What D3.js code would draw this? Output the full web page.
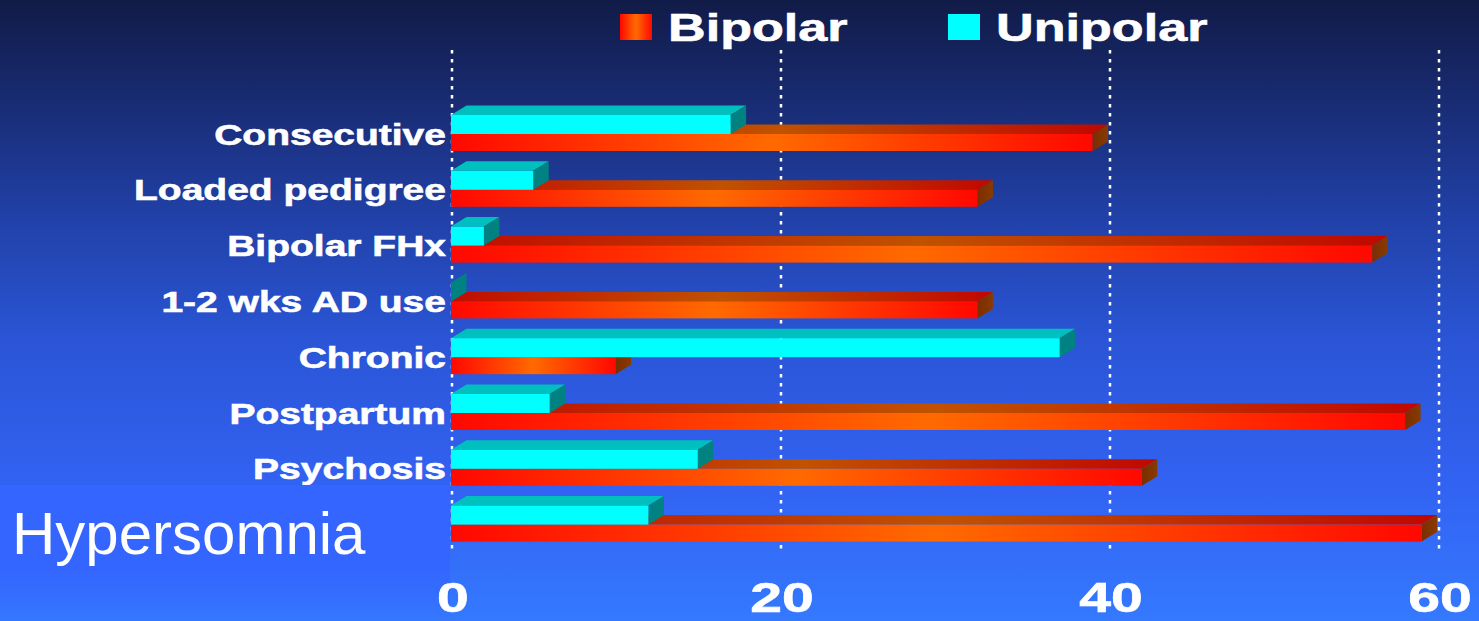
<!DOCTYPE html>
<html>
<head>
<meta charset="utf-8">
<script src="https://cdn.jsdelivr.net/npm/d3@7"></script>
<style>
  html, body { margin: 0; padding: 0; background: #1b2f80; }
  svg { display: block; }
</style>
</head>
<body>
<svg id="chart" width="1479" height="621"></svg>
<script>
// Chart data
const categories = ["Consecutive", "Loaded pedigree", "Bipolar FHx", "1-2 wks AD use",
                    "Chronic", "Postpartum", "Psychosis", "Hypersomnia"];
const unipolar = [17, 5, 2, 0, 37, 6, 15, 12];
const bipolar  = [39, 32, 56, 32, 10, 58, 42, 59];
const tickValues = [0, 20, 40, 60];
const seriesNames = ["Bipolar", "Unipolar"];

const W = 1479, H = 621;
const svg = d3.select("#chart");
const defs = svg.append("defs");
const FONT = "'Liberation Sans', Arial, sans-serif";

// Background: deep navy at the top fading to bright blue
const bg = defs.append("linearGradient").attr("id", "bg").attr("x1", 0).attr("y1", 0).attr("x2", 0).attr("y2", 1);
[[0, "#111b47"], [0.15, "#182a6f"], [0.35, "#2141a8"], [0.55, "#2a55d6"], [0.78, "#3262f2"], [1, "#3479ff"]]
  .forEach(([o, c]) => bg.append("stop").attr("offset", o).attr("stop-color", c));
svg.append("rect").attr("width", W).attr("height", H).attr("fill", "url(#bg)");

// Gradients for the 3-D red bars
function hGrad(id, stops) {
  const g = defs.append("linearGradient").attr("id", id).attr("x1", 0).attr("y1", 0).attr("x2", 1).attr("y2", 0);
  stops.forEach(([o, c]) => g.append("stop").attr("offset", o).attr("stop-color", c));
}
hGrad("redFront", [[0, "#ff0800"], [0.5, "#ff6a00"], [1, "#ff0800"]]);
hGrad("redTop",   [[0, "#c00c00"], [0.5, "#c05200"], [1, "#c00800"]]);
hGrad("redSide",  [[0, "#7a2e00"], [1, "#8a3a00"]]);

// Label panel fades out into the background towards the bottom
const pg = defs.append("linearGradient").attr("id", "panel").attr("x1", 0).attr("y1", 0).attr("x2", 0).attr("y2", 1);
pg.append("stop").attr("offset", 0).attr("stop-color", "#3466ff").attr("stop-opacity", 1);
pg.append("stop").attr("offset", 0.6).attr("stop-color", "#3466ff").attr("stop-opacity", 1);
pg.append("stop").attr("offset", 1).attr("stop-color", "#3466ff").attr("stop-opacity", 0);

const faces = {
  Bipolar:  { front: "url(#redFront)", top: "url(#redTop)", side: "url(#redSide)", legend: "url(#redFront)" },
  Unipolar: { front: "#00ffff", top: "#00bfbf", side: "#008282", legend: "#00ffff" }
};

// Scales
const x = d3.scaleLinear().domain([0, 60]).range([451, 1438]);
const y = d3.scaleBand().domain(categories).range([106.1, 552.5]).padding(0);
const mid = c => y(c) + y.bandwidth() / 2;   // boundary between the two series bars

const DX = 15.5, DY = -9.5;                  // 3-D depth offset
const barSpan = { Unipolar: [-19, 0], Bipolar: [0, 17] };

// Dotted vertical gridlines
svg.append("g").selectAll("line").data(tickValues).join("line")
  .attr("x1", d => x(d) + 1).attr("x2", d => x(d) + 1)
  .attr("y1", 50).attr("y2", 550)
  .attr("stroke", "#ffffff").attr("stroke-width", 2.5)
  .attr("stroke-dasharray", "3.5,5.5");

// Bars: red series drawn first, cyan in front of it
const rows = categories.map((c, i) => ({ c, Unipolar: unipolar[i], Bipolar: bipolar[i] }));
const barsG = svg.append("g");
rows.forEach(r => {
  seriesNames.forEach(s => {
    const v = r[s];
    const x0 = x(0), x1 = x(v);
    const yt = mid(r.c) + barSpan[s][0], yb = mid(r.c) + barSpan[s][1];
    const f = faces[s];
    const g = barsG.append("g");
    if (v > 0) {
      g.append("path")
        .attr("d", `M${x0},${yt}L${x0 + DX},${yt + DY}L${x1 + DX},${yt + DY}L${x1},${yt}Z`)
        .attr("fill", f.top);
    }
    g.append("path")
      .attr("d", `M${x1},${yt}L${x1 + DX},${yt + DY}L${x1 + DX},${yb + DY}L${x1},${yb}Z`)
      .attr("fill", f.side);
    if (v > 0) {
      g.append("rect").attr("x", x0).attr("y", yt).attr("width", x1 - x0).attr("height", yb - yt)
        .attr("fill", f.front);
    }
  });
});

// Category labels (stretched heavy type)
svg.append("g").selectAll("text").data(categories.slice(0, -1)).join("text")
  .attr("transform", d => `translate(446,${mid(d) + 10.5}) scale(1.3,1)`)
  .attr("text-anchor", "end")
  .attr("font-family", FONT).attr("font-weight", "bold").attr("font-size", 30)
  .attr("fill", "#ffffff").attr("stroke", "#ffffff").attr("stroke-width", 0.6)
  .text(d => d);

// The last category is named in its own panel at the lower left
const lastCat = categories[categories.length - 1];
svg.append("rect").attr("x", 0).attr("y", 485).attr("width", 450).attr("height", 136).attr("fill", "url(#panel)");
svg.append("text")
  .attr("x", 12).attr("y", mid(lastCat) + 29)
  .attr("font-family", FONT).attr("font-size", 60).attr("fill", "#ffffff")
  .text(lastCat);

// X axis tick labels
svg.append("g").selectAll("text").data(tickValues).join("text")
  .attr("transform", d => `translate(${x(d) + 2},612) scale(1.36,1)`)
  .attr("text-anchor", "middle")
  .attr("font-family", FONT).attr("font-weight", "bold").attr("font-size", 42)
  .attr("fill", "#ffffff").attr("stroke", "#ffffff").attr("stroke-width", 0.6)
  .text(d => d);

// Legend
const legendPos = { Bipolar: 620, Unipolar: 948 };
const lg = svg.append("g");
seriesNames.forEach(s => {
  lg.append("rect").attr("x", legendPos[s]).attr("y", 14).attr("width", 32).attr("height", 26)
    .attr("fill", faces[s].legend);
  lg.append("text")
    .attr("transform", `translate(${legendPos[s] + 48},41) scale(1.32,1)`)
    .attr("font-family", FONT).attr("font-weight", "bold").attr("font-size", 39.5)
    .attr("fill", "#ffffff").attr("stroke", "#ffffff").attr("stroke-width", 0.6)
    .text(s);
});
</script>
</body>
</html>
